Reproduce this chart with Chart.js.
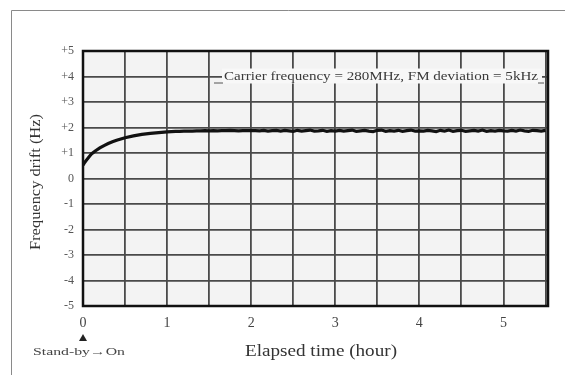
<!DOCTYPE html>
<html lang="en">
<head>
  <meta charset="UTF-8">
  <title>Frequency drift vs elapsed time</title>
  <style>
    html, body { margin: 0; padding: 0; background: #fff; }
    #wrap { width: 565px; height: 375px; position: relative; }
  </style>
</head>
<body>
  <div id="wrap"><canvas id="driftChart"></canvas></div>

  <script src="https://cdn.jsdelivr.net/npm/chart.js"></script>
  <script>
    // elapsed time (hour) and frequency drift (Hz)
    const hours = [
      0, 0.02, 0.05, 0.08, 0.1, 0.15, 0.2, 0.25, 0.3, 0.35, 0.4, 0.45, 0.5, 0.6, 0.7, 0.8, 0.9, 1.0,
      1.05, 1.1, 1.15, 1.2, 1.25, 1.3, 1.35, 1.4, 1.45, 1.5, 1.55, 1.6, 1.65, 1.7, 1.75, 1.8, 1.85, 1.9, 1.95, 2.0,
      2.05, 2.1, 2.15, 2.2, 2.25, 2.3, 2.35, 2.4, 2.45, 2.5, 2.55, 2.6, 2.65, 2.7, 2.75, 2.8, 2.85, 2.9, 2.95, 3.0,
      3.05, 3.1, 3.15, 3.2, 3.25, 3.3, 3.35, 3.4, 3.45, 3.5, 3.55, 3.6, 3.65, 3.7, 3.75, 3.8, 3.85, 3.9, 3.95, 4.0,
      4.05, 4.1, 4.15, 4.2, 4.25, 4.3, 4.35, 4.4, 4.45, 4.5, 4.55, 4.6, 4.65, 4.7, 4.75, 4.8, 4.85, 4.9, 4.95, 5.0,
      5.05, 5.1, 5.15, 5.2, 5.25, 5.3, 5.35, 5.4, 5.45, 5.5
    ];
    const drift = [
      0.52, 0.63, 0.76, 0.88, 0.96, 1.09, 1.2, 1.29, 1.37, 1.44, 1.5, 1.55, 1.6, 1.67, 1.73, 1.77, 1.8, 1.83,
      1.84, 1.85, 1.85, 1.86, 1.86, 1.86, 1.87, 1.87, 1.88, 1.87, 1.88, 1.87, 1.88, 1.88, 1.89, 1.88, 1.87, 1.88, 1.88, 1.88,
      1.88, 1.87, 1.89, 1.86, 1.88, 1.89, 1.86, 1.89, 1.87, 1.85, 1.89, 1.86, 1.88, 1.90, 1.86, 1.87, 1.89, 1.85, 1.88, 1.86,
      1.89, 1.86, 1.88, 1.90, 1.85, 1.87, 1.89, 1.86, 1.84, 1.89, 1.90, 1.85, 1.88, 1.86, 1.89, 1.85, 1.88, 1.90, 1.86, 1.87,
      1.86, 1.89, 1.87, 1.84, 1.89, 1.86, 1.90, 1.85, 1.88, 1.89, 1.85, 1.87, 1.89, 1.86, 1.90, 1.85, 1.88, 1.86, 1.89, 1.87,
      1.86, 1.89, 1.86, 1.90, 1.87, 1.85, 1.89, 1.88, 1.86, 1.89
    ];
    const yTickLabels = ['-5', '-4', '-3', '-2', '-1', '0', '+1', '+2', '+3', '+4', '+5'];
    const xTickLabels = ['0', '1', '2', '3', '4', '5'];

    const serif = '"Liberation Serif", "DejaVu Serif", serif';

    // draw text squeezed/stretched to a given width
    function fitText(ctx, text, x, y, width, size) {
      ctx.font = size + 'px ' + serif;
      const w = ctx.measureText(text).width;
      ctx.save();
      ctx.translate(x, y);
      ctx.scale(width / w, 1);
      ctx.fillText(text, 0, 0);
      ctx.restore();
    }

    const decorations = {
      id: 'decorations',
      beforeDraw(chart) {
        const { ctx, chartArea: a } = chart;
        ctx.save();
        ctx.fillStyle = '#f3f3f3';
        ctx.fillRect(a.left, a.top, a.right - a.left, a.bottom - a.top);
        // page frame
        ctx.strokeStyle = '#8a8a8a';
        ctx.lineWidth = 1;
        ctx.beginPath();
        ctx.moveTo(11.5, 375);
        ctx.lineTo(11.5, 10.5);
        ctx.lineTo(565, 10.5);
        ctx.stroke();
        ctx.restore();
      },
      afterDatasetsDraw(chart) {
        const { ctx, chartArea: a } = chart;
        ctx.save();
        // plot border
        ctx.strokeStyle = '#111';
        ctx.lineWidth = 2.5;
        ctx.strokeRect(a.left, a.top, a.right - a.left, a.bottom - a.top);

        // note box
        const yScale = chart.scales.y;
        const yNote = yScale.getPixelForValue(4);
        ctx.fillStyle = '#f8f8f8';
        ctx.fillRect(222, yNote - 8, 320, 15);
        ctx.strokeStyle = '#555';
        ctx.lineWidth = 1;
        ctx.beginPath();
        ctx.moveTo(214, yNote + 6.5); ctx.lineTo(223, yNote + 6.5);
        ctx.moveTo(538, yNote + 6.5); ctx.lineTo(544, yNote + 6.5);
        ctx.stroke();
        ctx.fillStyle = '#3a3a3a';
        ctx.textBaseline = 'middle';
        ctx.textAlign = 'left';
        fitText(ctx, 'Carrier frequency = 280MHz, FM deviation = 5kHz', 224, yNote, 314, 13);

        // axis titles
        ctx.fillStyle = '#333';
        fitText(ctx, 'Elapsed time (hour)', 245, 352, 152, 16);
        ctx.save();
        ctx.translate(36, 182);
        ctx.rotate(-Math.PI / 2);
        fitText(ctx, 'Frequency drift (Hz)', -68, 0, 136, 15);
        ctx.restore();

        // stand-by marker
        const x0 = chart.scales.x.getPixelForValue(0);
        ctx.fillStyle = '#222';
        ctx.beginPath();
        ctx.moveTo(x0, 334); ctx.lineTo(x0 - 4, 341); ctx.lineTo(x0 + 4, 341);
        ctx.closePath();
        ctx.fill();
        ctx.fillStyle = '#444';
        fitText(ctx, 'Stand-by\u2192On', 33, 352, 92, 11);
        ctx.restore();
      }
    };

    new Chart(document.getElementById('driftChart'), {
      type: 'scatter',
      data: {
        datasets: [{
          data: hours.map((h, i) => ({ x: h, y: drift[i] })),
          showLine: true,
          borderColor: '#111',
          borderWidth: 3.2,
          pointRadius: 0,
          tension: 0
        }]
      },
      options: {
        responsive: true,
        maintainAspectRatio: false,
        animation: false,
        layout: { padding: { top: 51, right: 17, left: 0, bottom: 0 } },
        plugins: { legend: { display: false }, tooltip: { enabled: false } },
        scales: {
          x: {
            type: 'linear',
            min: 0,
            max: 5.53,
            afterFit(s) { s.height = 69; },
            afterBuildTicks(s) {
              const t = [];
              for (let v = 0; v <= 5.5; v += 0.5) t.push({ value: v });
              s.ticks = t;
            },
            grid: { color: '#4a4a4a', lineWidth: 1.8, drawTicks: false },
            border: { display: false },
            ticks: {
              padding: 9,
              color: '#444',
              font: { family: serif, size: 14 },
              maxRotation: 0,
              autoSkip: false,
              callback: (v) => Number.isInteger(v) ? xTickLabels[v] : ''
            }
          },
          y: {
            min: -5,
            max: 5,
            afterFit(s) { s.width = 83; },
            grid: { color: '#4a4a4a', lineWidth: 1.8, drawTicks: false },
            border: { display: false },
            ticks: {
              stepSize: 1,
              padding: 9,
              color: '#555',
              font: { family: serif, size: 12 },
              callback: (v) => yTickLabels[v + 5]
            }
          }
        }
      },
      plugins: [decorations]
    });
  </script>
</body>
</html>
